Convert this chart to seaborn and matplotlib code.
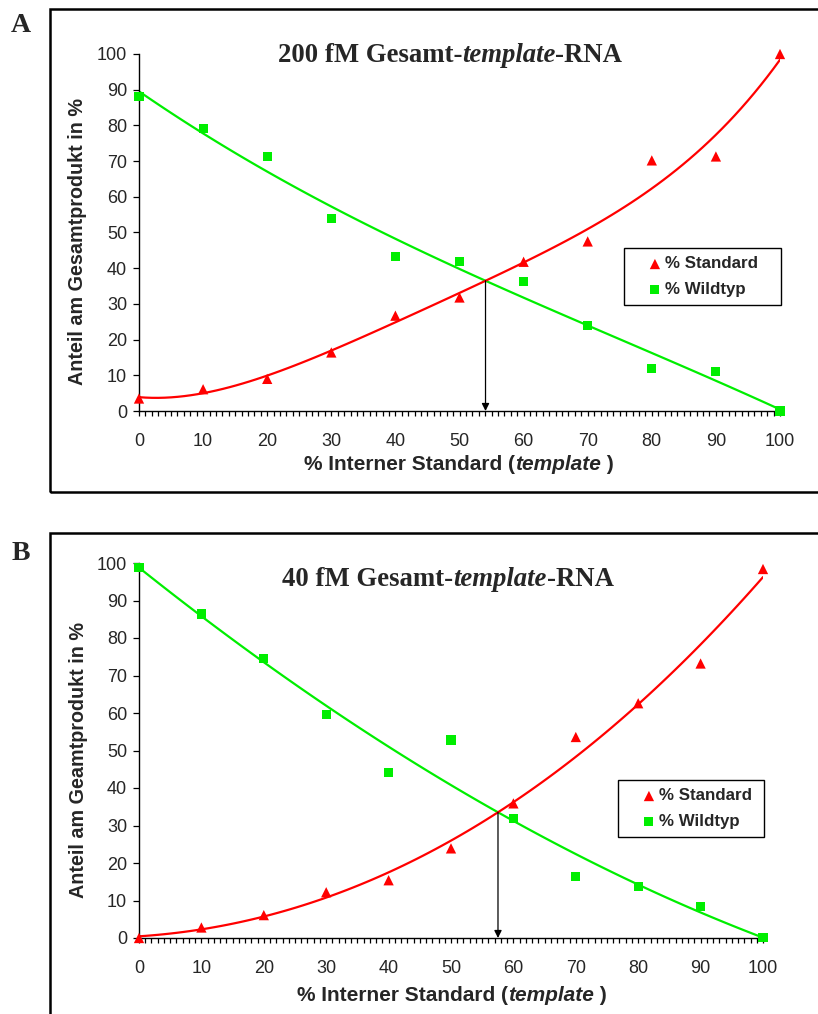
import numpy as np
import pandas as pd
import matplotlib
matplotlib.use('Agg')
import matplotlib.pyplot as plt
from matplotlib.patches import Rectangle
from matplotlib.ticker import MultipleLocator
import seaborn as sns

#Values
pct_standard = [0, 10, 20, 30, 40, 50, 60, 70, 80, 90, 100]
a_standard = [3.5, 6.1, 9.0, 16.4, 26.7, 31.8, 41.8, 47.5, 70.2, 71.3, 100.0]
a_wildtyp = [88.1, 79.2, 71.2, 53.8, 43.3, 41.9, 36.2, 24.0, 11.8, 11.0, 0.0]
b_standard = [0.0, 2.8, 6.1, 12.2, 15.4, 23.9, 35.9, 53.6, 62.6, 73.2, 98.4]
b_wildtyp = [98.8, 86.4, 74.5, 59.5, 44.1, 52.8, 31.8, 16.5, 13.7, 8.4, 0.1]

panel_letters = ['A', 'B']
titles = [('200 fM Gesamt-', 'template', '-RNA'), ('40 fM Gesamt-', 'template', '-RNA')]
ylabels = ['Anteil am Gesamtprodukt in %', 'Anteil am Geamtprodukt in %']
xlabel_parts = ('% Interner Standard (', 'template', ' )')
legend_labels = ['% Standard', '% Wildtyp']

#Polynomial order of the trendlines (standard, wildtyp)
fit_orders = [(4, 3), (3, 3)]

W, H = 818, 1014
sns.set_style('ticks')
plt.rcParams['font.family'] = ['Liberation Sans', 'DejaVu Sans']

fig = plt.figure(figsize=(W / 100, H / 100), dpi=100)
fig.patch.set_facecolor('white')

#Axes boxes in pixels: left, right, top, bottom
axes_px = [(139, 780, 54, 411), (139, 763, 563, 938)]
frames_px = [(50, 9, 492), (50, 533, 1100)]
legend_px = [(624, 781, 248), (618, 764, 780)]
title_px = [(450, 62), (448, 586)]
xlabel_px = [(459, 470), (452, 1001)]
letter_px = [(21, 32), (21, 560)]


def px_to_fig(x, y):
    return x / W, 1 - y / H


def mixed_text(xc, y, parts, family, size):
    r = fig.canvas.get_renderer()
    styles = ['normal', 'italic', 'normal']
    arts = [fig.text(0, 0, s, fontstyle=st, fontweight='bold', family=family,
                     fontsize=size, va='baseline', ha='left') for s, st in zip(parts, styles)]
    widths = [a.get_window_extent(r).width for a in arts]
    x = xc - sum(widths) / 2
    for a, w in zip(arts, widths):
        a.set_position(px_to_fig(x, y))
        x += w


data = [(a_standard, a_wildtyp), (b_standard, b_wildtyp)]

for i in range(2):
    l, r, t, b = axes_px[i]
    ax = fig.add_axes([l / W, 1 - b / H, (r - l) / W, (b - t) / H])
    std, wt = data[i]
    o_std, o_wt = fit_orders[i]
    df = pd.DataFrame({'pct': pct_standard, 'std': std, 'wt': wt})

    #Trendlines (polynomial, like the spreadsheet fits)
    sns.regplot(data=df, x='pct', y='wt', order=o_wt, ci=None, scatter=False,
                color='#00ee00', line_kws={'lw': 1.6}, ax=ax)
    sns.regplot(data=df, x='pct', y='std', order=o_std, ci=None, scatter=False,
                color='#ff0000', line_kws={'lw': 1.6}, ax=ax)

    #Data points
    sns.scatterplot(data=df, x='pct', y='std', marker='^', color='#ff0000', s=55,
                    edgecolor='none', label=legend_labels[0], clip_on=False, zorder=5, ax=ax)
    sns.scatterplot(data=df, x='pct', y='wt', marker='s', color='#00ee00', s=42,
                    edgecolor='none', label=legend_labels[1], clip_on=False, zorder=5, ax=ax)

    #Intersection of the two fits, marked with an arrow down to the x axis
    p_std = np.polyfit(df.pct, df['std'], o_std)
    p_wt = np.polyfit(df.pct, df.wt, o_wt)
    diff = np.polysub(p_std, p_wt)
    roots = [z.real for z in np.roots(diff) if abs(z.imag) < 1e-9 and 0 < z.real < 100]
    x_int = roots[0]
    y_int = np.polyval(p_std, x_int)
    ax.annotate('', xy=(x_int, 0), xytext=(x_int, y_int),
                arrowprops=dict(arrowstyle='-|>', color='black', lw=0.9,
                                mutation_scale=11, shrinkA=0, shrinkB=0))

    ax.set_xlim(0, 100)
    ax.set_ylim(0, 100)
    ax.xaxis.set_major_locator(MultipleLocator(10))
    ax.xaxis.set_minor_locator(MultipleLocator(1))
    ax.yaxis.set_major_locator(MultipleLocator(10))
    ax.tick_params(axis='x', which='both', direction='out', length=3.5, width=0.9,
                   pad=12, labelsize=13, color='black')
    ax.tick_params(axis='y', which='major', direction='out', length=4.5, width=0.9,
                   pad=4, labelsize=13, color='black')
    sns.despine(ax=ax)
    for s in ['left', 'bottom']:
        ax.spines[s].set_linewidth(1.0)
        ax.spines[s].set_color('black')
    ax.set_xlabel('')
    ax.set_ylabel(ylabels[i], fontsize=14.2, fontweight='bold')
    ax.yaxis.set_label_coords(-0.081, 0.475)

    #Legend
    ll, lr, lt = legend_px[i]
    x0 = (ll - l) / (r - l)
    y0 = (b - lt) / (b - t)
    wdt = (lr - ll) / (r - l)
    ax.legend(loc='upper left', bbox_to_anchor=(x0, y0 - 0.2, wdt, 0.2), mode='expand',
              frameon=True, fancybox=False, edgecolor='black', framealpha=1,
              prop={'weight': 'bold', 'size': 12.2}, borderpad=0.5, handlelength=2.65,
              handletextpad=-0.74, labelspacing=0.6, borderaxespad=0)
    ax.get_legend().get_frame().set_linewidth(1.0)

    #Outer frame and panel letter
    fx, ft, fb = frames_px[i]
    fig.add_artist(Rectangle(px_to_fig(fx, fb), 2, (fb - ft) / H, transform=fig.transFigure,
                             fill=False, lw=1.8, ec='black'))
    lx, ly = letter_px[i]
    fig.text(*px_to_fig(lx, ly), panel_letters[i], family='Liberation Serif',
             fontweight='bold', fontsize=20, ha='center', va='baseline')

    mixed_text(*title_px[i], titles[i], 'Liberation Serif', 19.3)
    mixed_text(*xlabel_px[i], xlabel_parts, 'Liberation Sans', 15)

fig.savefig('out.png', dpi=100)
